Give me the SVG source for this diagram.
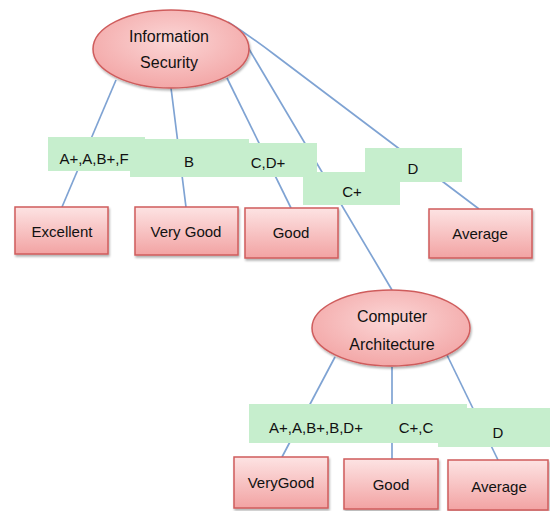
<svg xmlns="http://www.w3.org/2000/svg" width="550" height="511" viewBox="0 0 550 511">
<defs>
<radialGradient id="eg" cx="50%" cy="40%" r="60%">
<stop offset="0" stop-color="#fbd6d6"/>
<stop offset="1" stop-color="#f3a7a7"/>
</radialGradient>
<linearGradient id="rg" x1="0" y1="0" x2="0" y2="1">
<stop offset="0" stop-color="#fde3e3"/>
<stop offset="1" stop-color="#f2a3a3"/>
</linearGradient>
<filter id="sh" x="-10%" y="-10%" width="130%" height="140%">
<feDropShadow dx="1" dy="2" stdDeviation="1.2" flood-color="#000" flood-opacity="0.3"/>
</filter>
</defs>
<style>
.ln{stroke:#7fa3d3;stroke-width:1.7;fill:none}
.lab{fill:#c6eecd}
.el{fill:url(#eg);stroke:#cf5c5c;stroke-width:1.5;filter:url(#sh)}
.bx{fill:url(#rg);stroke:#cf5c5c;stroke-width:1.5;filter:url(#sh)}
text{font-family:"Liberation Sans",Arial,sans-serif;font-size:15px;fill:#111;text-anchor:middle}
</style>
<g id="connectors">
<line class="ln" x1="116" y1="80" x2="62" y2="207"/>
<line class="ln" x1="171" y1="88" x2="186" y2="207"/>
<line class="ln" x1="227" y1="78" x2="291" y2="208"/>
<line class="ln" x1="246" y1="44" x2="392" y2="290"/>
<path class="ln" d="M228 22 Q250 36 275 55 L479 209"/>
<line class="ln" x1="335" y1="357" x2="282" y2="457"/>
<line class="ln" x1="392" y1="367" x2="392" y2="459"/>
<line class="ln" x1="447" y1="355" x2="498" y2="460"/>
</g>
<g id="edge-labels">
<rect class="lab" x="48" y="137" width="97" height="34"/>
<rect class="lab" x="130" y="139" width="119" height="38"/>
<rect class="lab" x="249" y="143" width="68" height="34"/>
<rect class="lab" x="303" y="172" width="97" height="33"/>
<rect class="lab" x="365" y="148" width="97" height="34"/>
<text x="94" y="164">A+,A,B+,F</text>
<text x="189" y="167">B</text>
<text x="268" y="168">C,D+</text>
<text x="352" y="197">C+</text>
<text x="413" y="174">D</text>
<rect class="lab" x="249" y="404" width="218" height="39"/>
<rect class="lab" x="438" y="408" width="112" height="39"/>
<text x="316" y="433">A+,A,B+,B,D+</text>
<text x="416" y="433">C+,C</text>
<text x="498" y="438">D</text>
</g>
<g id="node-infosec">
<ellipse class="el" cx="171" cy="49" rx="78" ry="39"/>
<text x="169" y="42" style="font-size:16px">Information</text>
<text x="169" y="68" style="font-size:16px">Security</text>
</g>
<g id="node-excellent">
<rect class="bx" x="15" y="207" width="93" height="47"/>
<text x="62" y="237">Excellent</text>
</g>
<g id="node-verygood1">
<rect class="bx" x="135" y="207" width="103" height="48"/>
<text x="186" y="237">Very Good</text>
</g>
<g id="node-good1">
<rect class="bx" x="245" y="208" width="93" height="50"/>
<text x="291" y="238">Good</text>
</g>
<g id="node-average1">
<rect class="bx" x="429" y="209" width="103" height="49"/>
<text x="480" y="239">Average</text>
</g>
<g id="node-comparch">
<ellipse class="el" cx="391" cy="328" rx="79" ry="38"/>
<text x="392" y="322" style="font-size:16px">Computer</text>
<text x="392" y="350" style="font-size:16px">Architecture</text>
</g>
<g id="node-verygood2">
<rect class="bx" x="234" y="457" width="94" height="51"/>
<text x="281" y="488">VeryGood</text>
</g>
<g id="node-good2">
<rect class="bx" x="344" y="459" width="94" height="50"/>
<text x="391" y="490">Good</text>
</g>
<g id="node-average2">
<rect class="bx" x="448" y="460" width="100" height="50"/>
<text x="499" y="492">Average</text>
</g>
</svg>
